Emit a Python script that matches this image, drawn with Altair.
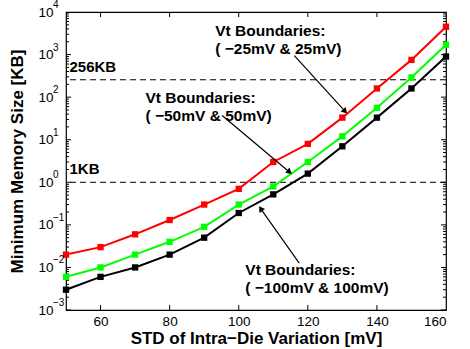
import altair as alt
import pandas as pd

# ---- data ----
std_mv = [50, 60, 70, 80, 90, 100, 110, 120, 130, 140, 150, 160]
vt_25 = [0.02, 0.03, 0.06, 0.13, 0.3, 0.7, 3, 8, 33, 160, 750, 4500]
vt_50 = [0.006, 0.01, 0.02, 0.04, 0.09, 0.3, 0.8, 3, 12, 56, 290, 1700]
vt_100 = [0.003, 0.006, 0.01, 0.02, 0.05, 0.19, 0.52, 1.6, 7, 33, 160, 900]

series_names = ["Vt ±25mV", "Vt ±50mV", "Vt ±100mV"]
series_colors = ["#ff0000", "#00ff00", "#000000"]

ref_levels = [256, 1]
ref_labels = ["256KB", "1KB"]
ref_label_x = [51, 51]

ann_text = ["Vt Boundaries:\n( \u221225mV & 25mV)",
            "Vt Boundaries:\n( \u221250mV & 50mV)",
            "Vt Boundaries:\n( \u2212100mV & 100mV)"]
ann_x = [93.2, 73.0, 101.9]
ann_y = [2750, 74, 0.0066]

arrow_x_start = [116.1, 95.2, 117.5]
arrow_y_start = [940, 37, 0.0126]
arrow_x_end = [130.6, 114.5, 106.5]
arrow_y_end = [48, 1.8, 0.23]
arrow_angle = [138, 130, 325]

x_ticks = [60, 80, 100, 120, 140]
x_labels = [60, 80, 100, 120, 140, 160]
y_major = [1e-3, 1e-2, 1e-1, 1, 10, 100, 1000, 1e4]
y_exponents = ["\u22123", "\u22122", "\u22121", "0", "1", "2", "3", "4"]
y_minor = [m * 10 ** e for e in range(-3, 4) for m in range(2, 10)]

# ---- tables ----
rows = []
for name, vals in zip(series_names, [vt_25, vt_50, vt_100]):
    for x, v in zip(std_mv, vals):
        rows.append({"std": x, "size": v, "series": name})
df = pd.DataFrame(rows)

ref_df = pd.DataFrame({"level": ref_levels, "label": ref_labels, "lx": ref_label_x})
ann_df = pd.DataFrame({"x": ann_x, "y": ann_y, "t": ann_text})
arr_df = pd.DataFrame({"x": arrow_x_start, "y": arrow_y_start,
                       "x2": arrow_x_end, "y2": arrow_y_end, "ang": arrow_angle})
exp_df = pd.DataFrame({"x": [std_mv[0]] * len(y_major), "y": y_major, "e": y_exponents})

xt_df = pd.DataFrame([{"x": x, "y": y} for x in x_ticks for y in [1e-3, 1e4]])
ymaj_df = pd.DataFrame([{"x": x, "y": y} for y in y_major for x in [50, 160]])
ymin_df = pd.DataFrame([{"x": x, "y": y} for y in y_minor for x in [50, 160]])

xscale = alt.Scale(domain=[50, 160], nice=False, zero=False)
yscale = alt.Scale(type="log", domain=[1e-3, 1e4], nice=False)

xaxis = alt.Axis(values=x_labels, grid=False, ticks=False, domain=False,
                 labelFontSize=13.5, labelPadding=4, title="STD of Intra\u2212Die Variation [mV]",
                 titleFontSize=17, titleFontWeight="bold", titlePadding=3, labelColor="black",
                 titleColor="black")
yaxis = alt.Axis(values=y_major, grid=False, ticks=False, domain=False, labelExpr="'10'",
                 labelFontSize=13.5, labelPadding=13, title="Minimum Memory Size [KB]",
                 titleFontSize=17, titleFontWeight="bold", titlePadding=11, labelColor="black",
                 titleColor="black")

color = alt.Color("series:N", scale=alt.Scale(domain=series_names, range=series_colors), legend=None)

base = alt.Chart(df)
lines = base.mark_line(strokeWidth=2, clip=True).encode(
    x=alt.X("std:Q", scale=xscale, axis=xaxis),
    y=alt.Y("size:Q", scale=yscale, axis=yaxis),
    color=color, detail="series:N")
pts = base.mark_square(size=40, opacity=1, filled=True).encode(
    x=alt.X("std:Q", scale=xscale), y=alt.Y("size:Q", scale=yscale), color=color)

refs = alt.Chart(ref_df).mark_rule(color="black", strokeDash=[6, 4], strokeWidth=1).encode(
    y=alt.Y("level:Q", scale=yscale))
ref_txt = alt.Chart(ref_df).mark_text(align="left", baseline="bottom", dy=-5, fontSize=15,
                                      fontWeight="bold", color="black").encode(
    x=alt.X("lx:Q", scale=xscale), y=alt.Y("level:Q", scale=yscale), text="label:N")

ann = alt.Chart(ann_df).mark_text(align="left", baseline="alphabetic", fontSize=15.5,
                                  fontWeight="bold", color="black", lineBreak="\n",
                                  lineHeight=18).encode(
    x=alt.X("x:Q", scale=xscale), y=alt.Y("y:Q", scale=yscale), text="t:N")

exps = alt.Chart(exp_df).mark_text(align="left", baseline="middle", dx=-13, dy=-7,
                                   fontSize=10, color="black").encode(
    x=alt.X("x:Q", scale=xscale), y=alt.Y("y:Q", scale=yscale), text="e:N")

arrows = alt.Chart(arr_df).mark_rule(color="black", strokeWidth=1.2).encode(
    x=alt.X("x:Q", scale=xscale), y=alt.Y("y:Q", scale=yscale),
    x2="x2:Q", y2="y2:Q")
heads = alt.Chart(arr_df).mark_point(shape="triangle", filled=True, color="black",
                                     opacity=1, size=45).encode(
    x=alt.X("x2:Q", scale=xscale), y=alt.Y("y2:Q", scale=yscale),
    angle=alt.Angle("ang:Q", scale=None))

xt = alt.Chart(xt_df).mark_tick(orient="vertical", size=10, thickness=1, color="black",
                                clip=True, opacity=1).encode(
    x=alt.X("x:Q", scale=xscale), y=alt.Y("y:Q", scale=yscale))
ymaj = alt.Chart(ymaj_df).mark_tick(orient="horizontal", size=10, thickness=1, color="black",
                                    clip=True, opacity=1).encode(
    x=alt.X("x:Q", scale=xscale), y=alt.Y("y:Q", scale=yscale))
ymin = alt.Chart(ymin_df).mark_tick(orient="horizontal", size=6, thickness=1, color="black",
                                    clip=True, opacity=1).encode(
    x=alt.X("x:Q", scale=xscale), y=alt.Y("y:Q", scale=yscale))

chart = alt.layer(xt, ymaj, ymin, refs, ref_txt, lines, pts, arrows, heads, ann, exps).properties(
    width=380, height=298, autosize="none",
    padding={"left": 66, "top": 12, "right": 24, "bottom": 39},
    background="white",
).configure(font="Liberation Sans").configure_view(stroke="black", strokeWidth=1.2)

chart.save("out.html", embed_options={"renderer": "svg", "actions": False})
